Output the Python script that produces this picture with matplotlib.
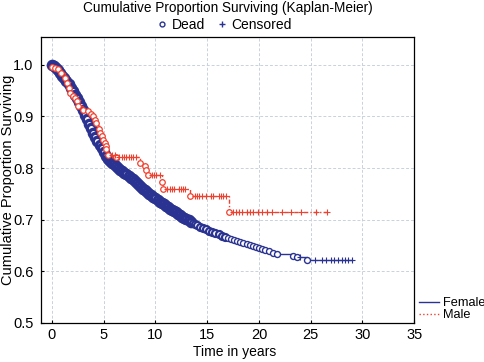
import numpy as np
import matplotlib
matplotlib.use("Agg")
import matplotlib.pyplot as plt
from matplotlib.lines import Line2D

plt.rcParams['font.family'] = ['Liberation Sans', 'DejaVu Sans']
plt.rcParams['font.size'] = 10

# ---- data ----
# Female: death times and survival after each death
f_t = [0.0, 0.2, 0.4, 0.6, 0.8, 1.0, 1.2, 1.4, 1.6, 1.8, 2.0, 2.2, 2.4, 2.6, 2.8, 3.0,
       3.2, 3.4, 3.6, 3.8, 4.0, 4.2, 4.4, 4.6, 4.8, 5.0, 5.2, 5.4, 5.6, 5.8, 6.0, 6.2,
       6.4, 6.6, 6.8, 7.0, 7.2, 7.4, 7.6, 7.8, 8.0, 8.2, 8.4, 8.6, 8.8, 9.0, 9.2, 9.4,
       9.6, 9.8, 10.0, 10.2, 10.4, 10.6, 10.8, 11.0, 11.2, 11.4, 11.6, 11.8, 12.0, 12.2,
       12.4, 12.6, 12.8, 13.0, 13.2, 13.4, 13.6, 13.8, 14.0, 14.3, 14.6, 14.9, 15.2, 15.5,
       15.8, 16.1, 16.4, 16.7, 17.0, 17.3, 17.6, 17.9, 18.2, 18.5, 18.8, 19.1, 19.4, 19.7,
       20.0, 20.3, 20.6, 21.0, 21.4, 21.7, 23.3, 23.65, 24.6]
f_s = [1.000, 0.997, 0.993, 0.989, 0.984, 0.979, 0.974, 0.968, 0.962, 0.956, 0.949, 0.942,
       0.935, 0.927, 0.920, 0.912, 0.903, 0.895, 0.886, 0.877, 0.868, 0.861, 0.853, 0.845,
       0.838, 0.831, 0.824, 0.818, 0.814, 0.810, 0.807, 0.804, 0.800, 0.797, 0.794, 0.791,
       0.788, 0.785, 0.781, 0.778, 0.775, 0.771, 0.768, 0.764, 0.760, 0.757, 0.754, 0.750,
       0.747, 0.744, 0.741, 0.738, 0.735, 0.732, 0.730, 0.727, 0.724, 0.721, 0.719, 0.716,
       0.714, 0.711, 0.709, 0.706, 0.704, 0.701, 0.699, 0.696, 0.694, 0.691, 0.689, 0.686,
       0.684, 0.681, 0.679, 0.676, 0.674, 0.672, 0.669, 0.667, 0.665, 0.663, 0.661, 0.659,
       0.657, 0.655, 0.653, 0.651, 0.649, 0.647, 0.645, 0.643, 0.641, 0.639, 0.636, 0.633,
       0.629, 0.627, 0.622]
# Female censored times
f_cens = [24.0, 25.4, 26.1, 26.5, 27.0, 27.3, 27.6, 28.0, 28.3, 28.6, 29.0]

# Male deaths
m_t = [0.05, 0.3, 0.6, 0.9, 1.25, 1.45, 1.6, 1.74, 2.0, 2.2, 2.4, 2.55, 3.0, 3.5, 3.75,
       4.0, 4.15, 4.3, 4.5, 4.65, 4.8, 4.95, 5.1, 5.2, 5.27, 5.37, 6.2, 8.5, 9.0, 9.1,
       9.3, 10.6, 10.75, 13.3, 17.15]
m_s = [0.996, 0.994, 0.991, 0.984, 0.975, 0.965, 0.955, 0.946, 0.940, 0.935, 0.930, 0.920,
       0.913, 0.910, 0.905, 0.900, 0.894, 0.888, 0.875, 0.868, 0.862, 0.855, 0.849, 0.842,
       0.836, 0.826, 0.821, 0.810, 0.803, 0.797, 0.786, 0.772, 0.760, 0.746, 0.715]
# Male censored times
m_cens = [5.8, 6.1, 6.5, 6.8, 7.0, 7.2, 7.4, 7.6, 7.8, 8.1, 9.7, 9.9, 10.1, 10.4,
          11.1, 11.4, 11.6, 11.8, 12.3, 12.5, 12.7, 12.9, 13.8, 14.0, 14.2, 14.5, 14.9,
          15.4, 15.6, 16.1, 16.3, 16.5, 16.8, 17.45, 17.8, 18.1, 18.4, 18.8, 19.1, 19.4,
          19.9, 20.3, 20.8, 21.3, 22.2, 23.1, 24.1, 25.5, 26.6]

blue = '#2a3391'
red = '#f0402e'


def km_curve(dt, ds, ct):
    # survival at censored times = last death value before it
    dt = np.array(dt); ds = np.array(ds); ct = np.array(ct)
    idx = np.searchsorted(dt, ct, side='right') - 1
    cs = ds[idx]
    allt = np.concatenate([[0.0], dt, ct])
    alls = np.concatenate([[1.0], ds, cs])
    order = np.argsort(allt, kind='stable')
    return allt[order], alls[order], cs


fig = plt.figure(figsize=(4.85, 3.62), dpi=100)
ax = fig.add_axes([0.0845, 0.108, 0.7695, 0.79])

# Female
tt, ss, fcs = km_curve(f_t, f_s, f_cens)
ax.step(tt, ss, where='post', color=blue, lw=1.0, zorder=3)
f_t_a = np.array(f_t); f_s_a = np.array(f_s)
dense = f_t_a < 13.5
mid = (f_t_a >= 13.5) & (f_t_a < 17)
sparse = f_t_a >= 17
ax.plot(f_t_a[dense], f_s_a[dense], 'o', mfc='white', mec=blue, ms=6, mew=2.4, zorder=4)
ax.plot(f_t_a[mid], f_s_a[mid], 'o', mfc='white', mec=blue, ms=5, mew=1.6, zorder=4)
ax.plot(f_t_a[sparse], f_s_a[sparse], 'o', mfc='white', mec=blue, ms=4.3, mew=1.0, zorder=4)
ax.plot(f_cens, fcs, '+', color=blue, ms=5, mew=0.8, zorder=4)

# Male
tt, ss, mcs = km_curve(m_t, m_s, m_cens)
ax.step(tt, ss, where='post', color=red, lw=1.0, ls=(0, (3, 1.5, 1, 1.5)), zorder=5)
ax.plot(m_t, m_s, 'o', mfc='white', mec=red, ms=4, mew=0.9, zorder=6)
ax.plot(m_cens, mcs, '+', color=red, ms=5, mew=0.8, zorder=6)

ax.set_xlim(-1.06, 35)
ax.set_ylim(0.5, 1.054)
ax.set_xticks(np.arange(0, 36, 5))
ax.set_yticks(np.arange(0.5, 1.01, 0.1))
ax.set_yticklabels(['%.1f' % v for v in np.arange(0.5, 1.01, 0.1)])
ax.grid(True, color='#c8d2dc', ls=(0, (3, 2)), lw=0.7)
ax.tick_params(direction='in', length=2, labelsize=10.5)
ax.tick_params(axis='y', pad=5.5)
ax.tick_params(axis='x', pad=4)
for sp in ax.spines.values():
    sp.set_linewidth(0.9)
ax.set_xlabel('Time in years', fontsize=10, va='top')
ax.xaxis.set_label_coords(0.52, -0.078)
ax.set_ylabel('Cumulative Proportion Surviving', fontsize=10.5)
ax.yaxis.set_label_coords(-0.07, 0.5)

cx = 0.0845 + 0.7695 / 2
fig.text(cx, 0.997, 'Cumulative Proportion Surviving (Kaplan-Meier)',
         ha='center', va='top', fontsize=9.8)
top_handles = [Line2D([], [], ls='none', marker='o', mfc='white', mec=blue, ms=3.5),
               Line2D([], [], ls='none', marker='+', color=blue, ms=4.5)]
fig.legend(top_handles, ['Dead', 'Censored'], loc='center', bbox_to_anchor=(cx - 0.01, 0.932),
           ncol=2, frameon=False, fontsize=10, handletextpad=0.1, columnspacing=0.6,
           handlelength=1.2, borderpad=0)

side_handles = [Line2D([], [], color=blue, lw=1.0),
                Line2D([], [], color=red, lw=1.0, ls=':')]
fig.legend(side_handles, ['Female', 'Male'], loc='upper left',
           bbox_to_anchor=(419 / 485, 1 - 297 / 362), frameon=False, fontsize=9.2,
           handlelength=1.6, handletextpad=0.3, labelspacing=0.0, borderpad=0,
           borderaxespad=0)

fig.savefig('out.png', dpi=100)
